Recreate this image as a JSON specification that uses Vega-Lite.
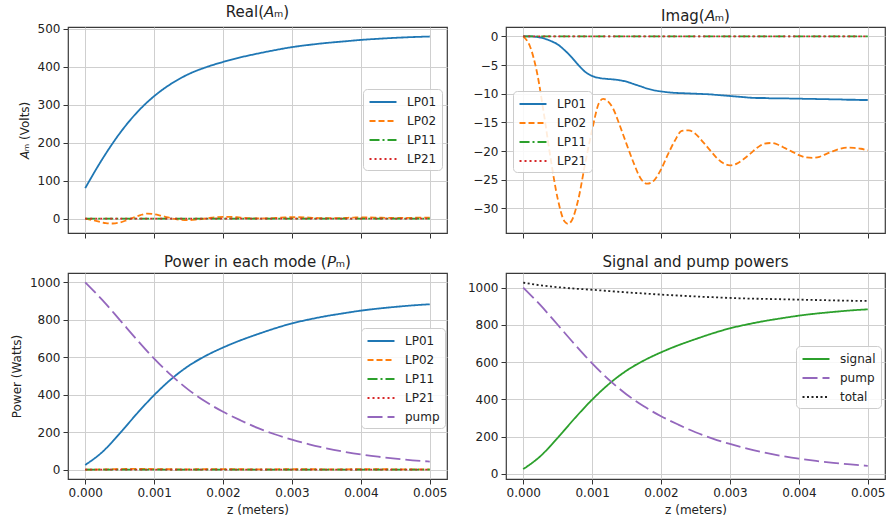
{
  "$schema": "https://vega.github.io/schema/vega-lite/v6.json",
  "background": "white",
  "padding": {"left": 9, "top": 3, "right": 5, "bottom": 5},
  "bounds": "flush",
  "columns": 2,
  "spacing": {"row": 40, "column": 59},
  "datasets": {
    "real": [
      {"m":"LP01","z":0,"v":80},{"m":"LP01","z":0.00025,"v":157},{"m":"LP01","z":0.0005,"v":224},{"m":"LP01","z":0.00075,"v":279},{"m":"LP01","z":0.001,"v":322},{"m":"LP01","z":0.00125,"v":355},{"m":"LP01","z":0.0015,"v":380},{"m":"LP01","z":0.00175,"v":398},{"m":"LP01","z":0.002,"v":412},{"m":"LP01","z":0.00225,"v":424},{"m":"LP01","z":0.0025,"v":434},{"m":"LP01","z":0.00275,"v":443},{"m":"LP01","z":0.003,"v":451},{"m":"LP01","z":0.00325,"v":457},{"m":"LP01","z":0.0035,"v":462},{"m":"LP01","z":0.00375,"v":466},{"m":"LP01","z":0.004,"v":470},{"m":"LP01","z":0.00425,"v":473},{"m":"LP01","z":0.0045,"v":475.5},{"m":"LP01","z":0.00475,"v":477.5},{"m":"LP01","z":0.005,"v":479},
      {"m":"LP02","z":0,"v":0},{"m":"LP02","z":0.0001,"v":-4},{"m":"LP02","z":0.0002,"v":-8},{"m":"LP02","z":0.0003,"v":-12},{"m":"LP02","z":0.0004,"v":-13},{"m":"LP02","z":0.0005,"v":-10.5},{"m":"LP02","z":0.0006,"v":-4.5},{"m":"LP02","z":0.0007,"v":2.5},{"m":"LP02","z":0.0008,"v":9},{"m":"LP02","z":0.0009,"v":13},{"m":"LP02","z":0.001,"v":11.5},{"m":"LP02","z":0.0011,"v":7.5},{"m":"LP02","z":0.0012,"v":3},{"m":"LP02","z":0.0013,"v":-1},{"m":"LP02","z":0.0014,"v":-3.5},{"m":"LP02","z":0.0015,"v":-4},{"m":"LP02","z":0.0016,"v":-3},{"m":"LP02","z":0.0017,"v":-1},{"m":"LP02","z":0.0018,"v":1.5},{"m":"LP02","z":0.0019,"v":3.5},{"m":"LP02","z":0.002,"v":4.5},{"m":"LP02","z":0.0021,"v":4.5},{"m":"LP02","z":0.0022,"v":3.5},{"m":"LP02","z":0.0023,"v":2},{"m":"LP02","z":0.0024,"v":0.8},{"m":"LP02","z":0.0025,"v":0.3},{"m":"LP02","z":0.0026,"v":0.5},{"m":"LP02","z":0.0027,"v":1},{"m":"LP02","z":0.0028,"v":2},{"m":"LP02","z":0.0029,"v":3},{"m":"LP02","z":0.003,"v":3.5},{"m":"LP02","z":0.0031,"v":3.5},{"m":"LP02","z":0.0032,"v":3},{"m":"LP02","z":0.0033,"v":2},{"m":"LP02","z":0.0034,"v":1.3},{"m":"LP02","z":0.0035,"v":1},{"m":"LP02","z":0.0036,"v":1},{"m":"LP02","z":0.0037,"v":1.3},{"m":"LP02","z":0.0038,"v":2},{"m":"LP02","z":0.0039,"v":2.6},{"m":"LP02","z":0.004,"v":3},{"m":"LP02","z":0.0041,"v":3},{"m":"LP02","z":0.0042,"v":2.7},{"m":"LP02","z":0.0043,"v":2.2},{"m":"LP02","z":0.0044,"v":1.8},{"m":"LP02","z":0.0045,"v":1.6},{"m":"LP02","z":0.0046,"v":1.6},{"m":"LP02","z":0.0047,"v":1.8},{"m":"LP02","z":0.0048,"v":2.1},{"m":"LP02","z":0.0049,"v":2.4},{"m":"LP02","z":0.005,"v":2.5},
      {"m":"LP11","z":0,"v":0},{"m":"LP11","z":0.005,"v":0},
      {"m":"LP21","z":0,"v":0},{"m":"LP21","z":0.005,"v":0}
    ],
    "imag": [
      {"m":"LP01","z":0,"v":0},{"m":"LP01","z":0.0001,"v":0},{"m":"LP01","z":0.0002,"v":-0.1},{"m":"LP01","z":0.0003,"v":-0.35},{"m":"LP01","z":0.0004,"v":-0.8},{"m":"LP01","z":0.0005,"v":-1.4},{"m":"LP01","z":0.0006,"v":-2.4},{"m":"LP01","z":0.0007,"v":-3.6},{"m":"LP01","z":0.0008,"v":-5.0},{"m":"LP01","z":0.0009,"v":-6.2},{"m":"LP01","z":0.001,"v":-6.9},{"m":"LP01","z":0.0011,"v":-7.25},{"m":"LP01","z":0.0012,"v":-7.4},{"m":"LP01","z":0.0013,"v":-7.5},{"m":"LP01","z":0.0014,"v":-7.65},{"m":"LP01","z":0.0015,"v":-7.9},{"m":"LP01","z":0.0016,"v":-8.3},{"m":"LP01","z":0.0017,"v":-8.7},{"m":"LP01","z":0.0018,"v":-9.1},{"m":"LP01","z":0.0019,"v":-9.4},{"m":"LP01","z":0.002,"v":-9.6},{"m":"LP01","z":0.0021,"v":-9.75},{"m":"LP01","z":0.0022,"v":-9.85},{"m":"LP01","z":0.0023,"v":-9.9},{"m":"LP01","z":0.0024,"v":-9.95},{"m":"LP01","z":0.0025,"v":-10.0},{"m":"LP01","z":0.0026,"v":-10.05},{"m":"LP01","z":0.0027,"v":-10.1},{"m":"LP01","z":0.0028,"v":-10.2},{"m":"LP01","z":0.0029,"v":-10.3},{"m":"LP01","z":0.003,"v":-10.4},{"m":"LP01","z":0.0031,"v":-10.5},{"m":"LP01","z":0.0032,"v":-10.6},{"m":"LP01","z":0.0033,"v":-10.7},{"m":"LP01","z":0.0034,"v":-10.75},{"m":"LP01","z":0.0035,"v":-10.75},{"m":"LP01","z":0.0036,"v":-10.8},{"m":"LP01","z":0.0037,"v":-10.8},{"m":"LP01","z":0.0038,"v":-10.8},{"m":"LP01","z":0.0039,"v":-10.85},{"m":"LP01","z":0.004,"v":-10.85},{"m":"LP01","z":0.0041,"v":-10.9},{"m":"LP01","z":0.0042,"v":-10.9},{"m":"LP01","z":0.0043,"v":-10.95},{"m":"LP01","z":0.0044,"v":-10.95},{"m":"LP01","z":0.0045,"v":-11.0},{"m":"LP01","z":0.0046,"v":-11.0},{"m":"LP01","z":0.0047,"v":-11.05},{"m":"LP01","z":0.0048,"v":-11.05},{"m":"LP01","z":0.0049,"v":-11.1},{"m":"LP01","z":0.005,"v":-11.1},
      {"m":"LP02","z":0,"v":0},{"m":"LP02","z":0.0001,"v":-1.8},{"m":"LP02","z":0.0002,"v":-6.3},{"m":"LP02","z":0.0003,"v":-13.5},{"m":"LP02","z":0.0004,"v":-21.5},{"m":"LP02","z":0.0005,"v":-28.3},{"m":"LP02","z":0.0006,"v":-32.3},{"m":"LP02","z":0.00065,"v":-32.7},{"m":"LP02","z":0.0007,"v":-32.2},{"m":"LP02","z":0.0008,"v":-28.4},{"m":"LP02","z":0.0009,"v":-22.1},{"m":"LP02","z":0.001,"v":-16.3},{"m":"LP02","z":0.0011,"v":-11.6},{"m":"LP02","z":0.00116,"v":-10.9},{"m":"LP02","z":0.0012,"v":-11.05},{"m":"LP02","z":0.0013,"v":-12.5},{"m":"LP02","z":0.0014,"v":-15.5},{"m":"LP02","z":0.0015,"v":-18.8},{"m":"LP02","z":0.0016,"v":-22},{"m":"LP02","z":0.0017,"v":-24.7},{"m":"LP02","z":0.0018,"v":-25.7},{"m":"LP02","z":0.0019,"v":-25.1},{"m":"LP02","z":0.002,"v":-23.2},{"m":"LP02","z":0.0021,"v":-20.6},{"m":"LP02","z":0.0022,"v":-18.2},{"m":"LP02","z":0.0023,"v":-16.5},{"m":"LP02","z":0.0024,"v":-16.4},{"m":"LP02","z":0.0025,"v":-17.0},{"m":"LP02","z":0.0026,"v":-18.3},{"m":"LP02","z":0.0027,"v":-19.7},{"m":"LP02","z":0.0028,"v":-21.1},{"m":"LP02","z":0.0029,"v":-22.1},{"m":"LP02","z":0.003,"v":-22.5},{"m":"LP02","z":0.0031,"v":-22.2},{"m":"LP02","z":0.0032,"v":-21.4},{"m":"LP02","z":0.0033,"v":-20.4},{"m":"LP02","z":0.0034,"v":-19.4},{"m":"LP02","z":0.0035,"v":-18.7},{"m":"LP02","z":0.0036,"v":-18.6},{"m":"LP02","z":0.0037,"v":-18.9},{"m":"LP02","z":0.0038,"v":-19.5},{"m":"LP02","z":0.0039,"v":-20.1},{"m":"LP02","z":0.004,"v":-20.7},{"m":"LP02","z":0.0041,"v":-21.1},{"m":"LP02","z":0.0042,"v":-21.2},{"m":"LP02","z":0.0043,"v":-21.0},{"m":"LP02","z":0.0044,"v":-20.5},{"m":"LP02","z":0.0045,"v":-20.0},{"m":"LP02","z":0.0046,"v":-19.6},{"m":"LP02","z":0.0047,"v":-19.4},{"m":"LP02","z":0.0048,"v":-19.45},{"m":"LP02","z":0.0049,"v":-19.6},{"m":"LP02","z":0.005,"v":-19.9},
      {"m":"LP11","z":0,"v":0},{"m":"LP11","z":0.005,"v":0},
      {"m":"LP21","z":0,"v":0},{"m":"LP21","z":0.005,"v":0}
    ],
    "power": [
      {"m":"LP01","z":0,"v":25},{"m":"LP01","z":0.00025,"v":95},{"m":"LP01","z":0.0005,"v":193},{"m":"LP01","z":0.00075,"v":299},{"m":"LP01","z":0.001,"v":398},{"m":"LP01","z":0.00125,"v":484},{"m":"LP01","z":0.0015,"v":554},{"m":"LP01","z":0.00175,"v":608},{"m":"LP01","z":0.002,"v":652},{"m":"LP01","z":0.00225,"v":690},{"m":"LP01","z":0.0025,"v":723},{"m":"LP01","z":0.00275,"v":754},{"m":"LP01","z":0.003,"v":781},{"m":"LP01","z":0.00325,"v":802},{"m":"LP01","z":0.0035,"v":820},{"m":"LP01","z":0.00375,"v":835},{"m":"LP01","z":0.004,"v":849},{"m":"LP01","z":0.00425,"v":860},{"m":"LP01","z":0.0045,"v":869},{"m":"LP01","z":0.00475,"v":877},{"m":"LP01","z":0.005,"v":883},
      {"m":"LP02","z":0,"v":0},{"m":"LP02","z":0.00025,"v":1.2},{"m":"LP02","z":0.0005,"v":3},{"m":"LP02","z":0.00075,"v":4},{"m":"LP02","z":0.001,"v":3.2},{"m":"LP02","z":0.00125,"v":2},{"m":"LP02","z":0.0015,"v":1.8},{"m":"LP02","z":0.00175,"v":2.2},{"m":"LP02","z":0.002,"v":2.4},{"m":"LP02","z":0.00225,"v":2},{"m":"LP02","z":0.0025,"v":1.8},{"m":"LP02","z":0.00275,"v":1.9},{"m":"LP02","z":0.003,"v":2.1},{"m":"LP02","z":0.00325,"v":2},{"m":"LP02","z":0.0035,"v":1.9},{"m":"LP02","z":0.00375,"v":1.9},{"m":"LP02","z":0.004,"v":2},{"m":"LP02","z":0.00425,"v":2},{"m":"LP02","z":0.0045,"v":1.9},{"m":"LP02","z":0.00475,"v":1.9},{"m":"LP02","z":0.005,"v":1.9},
      {"m":"LP11","z":0,"v":0},{"m":"LP11","z":0.005,"v":0},
      {"m":"LP21","z":0,"v":0},{"m":"LP21","z":0.005,"v":0},
      {"m":"pump","z":0,"v":1000},{"m":"pump","z":0.00025,"v":905},{"m":"pump","z":0.0005,"v":800},{"m":"pump","z":0.00075,"v":694},{"m":"pump","z":0.001,"v":593},{"m":"pump","z":0.00125,"v":503},{"m":"pump","z":0.0015,"v":426},{"m":"pump","z":0.00175,"v":362},{"m":"pump","z":0.002,"v":309},{"m":"pump","z":0.00225,"v":264},{"m":"pump","z":0.0025,"v":223},{"m":"pump","z":0.00275,"v":189},{"m":"pump","z":0.003,"v":160},{"m":"pump","z":0.00325,"v":135},{"m":"pump","z":0.0035,"v":114},{"m":"pump","z":0.00375,"v":96},{"m":"pump","z":0.004,"v":81},{"m":"pump","z":0.00425,"v":69},{"m":"pump","z":0.0045,"v":59},{"m":"pump","z":0.00475,"v":50},{"m":"pump","z":0.005,"v":43}
    ],
    "sp": [
      {"m":"signal","z":0,"v":25},{"m":"signal","z":0.00025,"v":95},{"m":"signal","z":0.0005,"v":193},{"m":"signal","z":0.00075,"v":299},{"m":"signal","z":0.001,"v":398},{"m":"signal","z":0.00125,"v":484},{"m":"signal","z":0.0015,"v":554},{"m":"signal","z":0.00175,"v":608},{"m":"signal","z":0.002,"v":652},{"m":"signal","z":0.00225,"v":690},{"m":"signal","z":0.0025,"v":723},{"m":"signal","z":0.00275,"v":754},{"m":"signal","z":0.003,"v":781},{"m":"signal","z":0.00325,"v":802},{"m":"signal","z":0.0035,"v":820},{"m":"signal","z":0.00375,"v":835},{"m":"signal","z":0.004,"v":849},{"m":"signal","z":0.00425,"v":860},{"m":"signal","z":0.0045,"v":869},{"m":"signal","z":0.00475,"v":877},{"m":"signal","z":0.005,"v":883},
      {"m":"pump","z":0,"v":1000},{"m":"pump","z":0.00025,"v":905},{"m":"pump","z":0.0005,"v":800},{"m":"pump","z":0.00075,"v":694},{"m":"pump","z":0.001,"v":593},{"m":"pump","z":0.00125,"v":503},{"m":"pump","z":0.0015,"v":426},{"m":"pump","z":0.00175,"v":362},{"m":"pump","z":0.002,"v":309},{"m":"pump","z":0.00225,"v":264},{"m":"pump","z":0.0025,"v":223},{"m":"pump","z":0.00275,"v":189},{"m":"pump","z":0.003,"v":160},{"m":"pump","z":0.00325,"v":135},{"m":"pump","z":0.0035,"v":114},{"m":"pump","z":0.00375,"v":96},{"m":"pump","z":0.004,"v":81},{"m":"pump","z":0.00425,"v":69},{"m":"pump","z":0.0045,"v":59},{"m":"pump","z":0.00475,"v":50},{"m":"pump","z":0.005,"v":43},
      {"m":"total","z":0,"v":1026},{"m":"total","z":0.00025,"v":1012},{"m":"total","z":0.0005,"v":1002},{"m":"total","z":0.00075,"v":994},{"m":"total","z":0.001,"v":988},{"m":"total","z":0.00125,"v":981},{"m":"total","z":0.0015,"v":974},{"m":"total","z":0.00175,"v":968},{"m":"total","z":0.002,"v":962},{"m":"total","z":0.00225,"v":957},{"m":"total","z":0.0025,"v":952},{"m":"total","z":0.00275,"v":948},{"m":"total","z":0.003,"v":944},{"m":"total","z":0.00325,"v":941},{"m":"total","z":0.0035,"v":939},{"m":"total","z":0.00375,"v":937},{"m":"total","z":0.004,"v":935},{"m":"total","z":0.00425,"v":933},{"m":"total","z":0.0045,"v":931},{"m":"total","z":0.00475,"v":929},{"m":"total","z":0.005,"v":928}
    ]
  },
  "concat": [
    {
      "width": 379, "height": 206,
      "title": "Real(𝘈ₘ)",
      "data": {"name": "real"},
      "mark": {"type": "line", "strokeWidth": 1.8, "interpolate": "monotone"},
      "encoding": {
        "x": {"field": "z", "type": "quantitative", "scale": {"domain": [-0.00025, 0.00525], "nice": false, "zero": false}, "axis": {"values": [0, 0.001, 0.002, 0.003, 0.004, 0.005], "labels": false, "title": null}},
        "y": {"field": "v", "type": "quantitative", "scale": {"domain": [-38, 504], "nice": false}, "axis": {"values": [0, 100, 200, 300, 400, 500], "format": "d", "title": "𝘈ₘ (Volts)"}},
        "color": {"field": "m", "type": "nominal", "scale": {"domain": ["LP01", "LP02", "LP11", "LP21"], "range": ["#1f77b4", "#ff7f0e", "#2ca02c", "#d62728"]}, "legend": {"title": null, "orient": "none", "legendX": 295, "legendY": 62}},
        "strokeDash": {"field": "m", "type": "nominal", "scale": {"domain": ["LP01", "LP02", "LP11", "LP21"], "range": [[1, 0], [6, 3], [10, 3, 2, 3], [2, 3]]}, "legend": {"title": null, "orient": "none", "legendX": 295, "legendY": 62}}
      }
    },
    {
      "width": 379, "height": 206,
      "title": "Imag(𝘈ₘ)",
      "data": {"name": "imag"},
      "mark": {"type": "line", "strokeWidth": 1.8, "interpolate": "monotone"},
      "encoding": {
        "x": {"field": "z", "type": "quantitative", "scale": {"domain": [-0.00025, 0.00525], "nice": false, "zero": false}, "axis": {"values": [0, 0.001, 0.002, 0.003, 0.004, 0.005], "labels": false, "title": null}},
        "y": {"field": "v", "type": "quantitative", "scale": {"domain": [-34.3, 1.64], "nice": false, "zero": false}, "axis": {"values": [0, -5, -10, -15, -20, -25, -30], "format": "d", "title": null}},
        "color": {"field": "m", "type": "nominal", "scale": {"domain": ["LP01", "LP02", "LP11", "LP21"], "range": ["#1f77b4", "#ff7f0e", "#2ca02c", "#d62728"]}, "legend": {"title": null, "orient": "none", "legendX": 7, "legendY": 64}},
        "strokeDash": {"field": "m", "type": "nominal", "scale": {"domain": ["LP01", "LP02", "LP11", "LP21"], "range": [[1, 0], [6, 3], [10, 3, 2, 3], [2, 3]]}, "legend": {"title": null, "orient": "none", "legendX": 7, "legendY": 64}}
      }
    },
    {
      "width": 379, "height": 206,
      "title": "Power in each mode (𝘗ₘ)",
      "data": {"name": "power"},
      "mark": {"type": "line", "strokeWidth": 1.8, "interpolate": "monotone"},
      "encoding": {
        "x": {"field": "z", "type": "quantitative", "scale": {"domain": [-0.00025, 0.00525], "nice": false, "zero": false}, "axis": {"values": [0, 0.001, 0.002, 0.003, 0.004, 0.005], "format": ".3f", "title": "z (meters)"}},
        "y": {"field": "v", "type": "quantitative", "scale": {"domain": [-50, 1050], "nice": false}, "axis": {"values": [0, 200, 400, 600, 800, 1000], "format": "d", "title": "Power (Watts)"}},
        "color": {"field": "m", "type": "nominal", "scale": {"domain": ["LP01", "LP02", "LP11", "LP21", "pump"], "range": ["#1f77b4", "#ff7f0e", "#2ca02c", "#d62728", "#9467bd"]}, "legend": {"title": null, "orient": "none", "legendX": 293, "legendY": 55}},
        "strokeDash": {"field": "m", "type": "nominal", "scale": {"domain": ["LP01", "LP02", "LP11", "LP21", "pump"], "range": [[1, 0], [6, 3], [10, 3, 2, 3], [2, 3], [15, 5]]}, "legend": {"title": null, "orient": "none", "legendX": 293, "legendY": 55}}
      }
    },
    {
      "width": 379, "height": 206,
      "title": "Signal and pump powers",
      "data": {"name": "sp"},
      "mark": {"type": "line", "strokeWidth": 1.8, "interpolate": "monotone"},
      "encoding": {
        "x": {"field": "z", "type": "quantitative", "scale": {"domain": [-0.00025, 0.00525], "nice": false, "zero": false}, "axis": {"values": [0, 0.001, 0.002, 0.003, 0.004, 0.005], "format": ".3f", "title": "z (meters)"}},
        "y": {"field": "v", "type": "quantitative", "scale": {"domain": [-28, 1078], "nice": false}, "axis": {"values": [0, 200, 400, 600, 800, 1000], "format": "d", "title": null}},
        "color": {"field": "m", "type": "nominal", "scale": {"domain": ["signal", "pump", "total"], "range": ["#2ca02c", "#9467bd", "#222222"]}, "legend": {"title": null, "orient": "none", "legendX": 290, "legendY": 73}},
        "strokeDash": {"field": "m", "type": "nominal", "scale": {"domain": ["signal", "pump", "total"], "range": [[1, 0], [15, 5], [2, 2.5]]}, "legend": {"title": null, "orient": "none", "legendX": 290, "legendY": 73}}
      }
    }
  ],
  "resolve": {
    "scale": {"color": "independent", "strokeDash": "independent"},
    "legend": {"color": "independent", "strokeDash": "independent"}
  },
  "config": {
    "font": "DejaVu Sans",
    "view": {"stroke": "#3a3a3a", "strokeWidth": 1.2},
    "title": {"font": "DejaVu Sans", "fontSize": 15, "fontWeight": "normal", "color": "#222222", "offset": 3},
    "axis": {
      "labelFont": "DejaVu Sans", "labelFontSize": 12, "labelColor": "#222222",
      "titleFont": "DejaVu Sans", "titleFontSize": 12, "titleFontWeight": "normal", "titleColor": "#222222",
      "tickColor": "#333333", "tickSize": 5, "tickWidth": 1, "domain": false,
      "gridColor": "#cfcfcf", "gridWidth": 1, "labelPadding": 3, "titlePadding": 6
    },
    "legend": {
      "fillColor": "rgba(255,255,255,0.85)", "strokeColor": "#cccccc", "cornerRadius": 4, "padding": 5,
      "labelFont": "DejaVu Sans", "labelFontSize": 12, "labelColor": "#222222",
      "symbolType": "M-2,0H2", "symbolSize": 182, "symbolStrokeWidth": 1.8, "symbolOffset": 7,
      "labelOffset": 16, "rowPadding": 5
    }
  }
}
